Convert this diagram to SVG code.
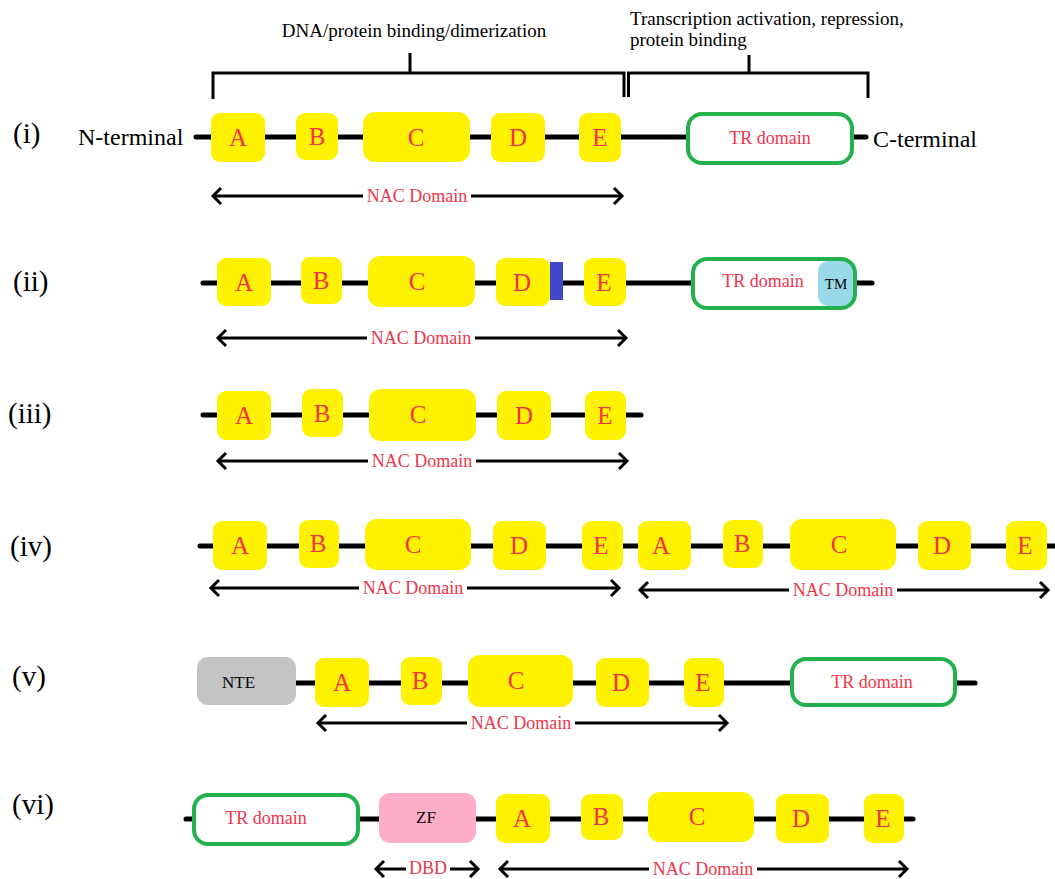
<svg xmlns="http://www.w3.org/2000/svg" width="1055" height="879" viewBox="0 0 1055 879" font-family="'Liberation Serif', 'Times New Roman', 'DejaVu Serif', serif">
<style>
.bb{stroke:#000;stroke-width:5;stroke-linecap:round;fill:none}
.y{fill:#fff200}
text{font-family:'Liberation Serif','Times New Roman','DejaVu Serif',serif}
.lt{font-size:25px;fill:#f0344a;text-anchor:middle}
.tr{fill:#fff;stroke:#22b14c;stroke-width:4}
.trt{font-size:18px;fill:#f0344a;text-anchor:middle}
.ar{stroke:#000;stroke-width:3;fill:none;marker-start:url(#chev);marker-end:url(#chev)}
.nac{font-size:18px;fill:#f0344a;text-anchor:middle}
.lbl{font-size:29px;fill:#000}
.bk{fill:#000}
.br{stroke:#000;stroke-width:3;fill:none}
.gap{fill:#fff}
</style>
<defs>
<marker id="chev" markerUnits="userSpaceOnUse" viewBox="-12 -12 24 24" markerWidth="24" markerHeight="24" refX="0" refY="0" orient="auto-start-reverse">
<path d="M-8,-8 L0,0 L-8,8" fill="none" stroke="#000" stroke-width="3"/>
</marker>
</defs>

<g id="row-labels">
<text class="lbl" x="13" y="143">(i)</text>
<text class="lbl" x="13" y="291">(ii)</text>
<text class="lbl" x="8" y="423">(iii)</text>
<text class="lbl" x="10" y="556">(iv)</text>
<text class="lbl" x="12" y="686">(v)</text>
<text class="lbl" x="12" y="814">(vi)</text>
</g>

<g id="brackets">
<path class="br" d="M213,99 V73 H624 V97 M410,53 V73"/>
<path class="br" d="M628.5,97 V73 H868 V98 M749,55 V73"/>
<text class="bk" x="414" y="37" font-size="19" text-anchor="middle">DNA/protein binding/dimerization</text>
<text class="bk" x="630" y="25" font-size="19">Transcription activation, repression,</text>
<text class="bk" x="630" y="46" font-size="19">protein binding</text>
</g>

<g id="connectors">
<line class="bb" x1="196" y1="137" x2="866" y2="137"/>
<line class="bb" x1="203" y1="283" x2="872" y2="283"/>
<line class="bb" x1="203" y1="415" x2="641" y2="415"/>
<line class="bb" x1="200" y1="546" x2="1058" y2="546"/>
<line class="bb" x1="290" y1="683" x2="975" y2="683"/>
<line class="bb" x1="186" y1="819" x2="913" y2="819"/>

<line class="ar" x1="213" y1="196" x2="622" y2="196"/>
<line class="ar" x1="218" y1="338" x2="626" y2="338"/>
<line class="ar" x1="218" y1="461" x2="627" y2="461"/>
<line class="ar" x1="211" y1="588" x2="619" y2="588"/>
<line class="ar" x1="640" y1="590" x2="1048" y2="590"/>
<line class="ar" x1="318" y1="723" x2="727" y2="723"/>
<line class="ar" x1="376" y1="869" x2="478" y2="869"/>
<line class="ar" x1="500" y1="869" x2="907" y2="869"/>

<g id="arrow-labels">
<rect class="gap" x="363" y="185" width="108" height="22"/>
<text class="nac" x="417" y="202">NAC Domain</text>
<rect class="gap" x="367" y="327" width="108" height="22"/>
<text class="nac" x="421" y="344">NAC Domain</text>
<rect class="gap" x="368" y="450" width="108" height="22"/>
<text class="nac" x="422" y="467">NAC Domain</text>
<rect class="gap" x="359" y="577" width="108" height="22"/>
<text class="nac" x="413" y="594">NAC Domain</text>
<rect class="gap" x="789" y="579" width="108" height="22"/>
<text class="nac" x="843" y="596">NAC Domain</text>
<rect class="gap" x="467" y="712" width="108" height="22"/>
<text class="nac" x="521" y="729">NAC Domain</text>
<rect class="gap" x="406" y="859" width="44" height="20"/>
<text class="nac" x="428" y="874" font-size="15">DBD</text>
<rect class="gap" x="649" y="858" width="108" height="21"/>
<text class="nac" x="703" y="875">NAC Domain</text>
</g>
</g>

<g id="row-i">
<text class="bk" x="78" y="145" font-size="24">N-terminal</text>
<g id="i-A"><rect class="y" x="211" y="113" width="54" height="49" rx="9"/><text class="lt" x="238" y="146">A</text></g>
<g id="i-B"><rect class="y" x="296" y="113" width="42" height="47" rx="9"/><text class="lt" x="317" y="145">B</text></g>
<g id="i-C"><rect class="y" x="363" y="112" width="107" height="50" rx="12"/><text class="lt" x="416" y="146">C</text></g>
<g id="i-D"><rect class="y" x="491" y="113" width="54" height="49" rx="9"/><text class="lt" x="518" y="146">D</text></g>
<g id="i-E"><rect class="y" x="579" y="113" width="42" height="49" rx="9"/><text class="lt" x="600" y="146">E</text></g>
<g id="i-TR"><rect class="tr" x="688" y="114" width="164" height="49" rx="14"/><text class="trt" x="770" y="144">TR domain</text></g>
<text class="bk" x="873" y="147" font-size="24">C-terminal</text>
</g>

<g id="row-ii">
<g id="ii-A"><rect class="y" x="217" y="258" width="54" height="48" rx="9"/><text class="lt" x="244" y="291">A</text></g>
<g id="ii-B"><rect class="y" x="301" y="257" width="41" height="47" rx="9"/><text class="lt" x="321" y="289">B</text></g>
<g id="ii-C"><rect class="y" x="368" y="256" width="107" height="51" rx="12"/><text class="lt" x="417" y="290">C</text></g>
<g id="ii-D"><rect class="y" x="496" y="258" width="54" height="48" rx="9"/><text class="lt" x="522" y="291">D</text></g>
<g id="ii-bar"><rect x="550" y="262" width="13" height="38" fill="#3f48cc"/></g>
<g id="ii-E"><rect class="y" x="584" y="258" width="42" height="48" rx="9"/><text class="lt" x="604" y="291">E</text></g>
<g id="ii-TR"><rect x="693" y="259" width="162" height="49" rx="14" fill="#fff"/><text class="trt" x="763" y="287">TR domain</text>
<rect x="818" y="261" width="36" height="45" rx="10" fill="#99d9ea"/>
<text class="bk" x="836" y="289" font-size="15" text-anchor="middle">TM</text>
<rect x="693" y="259" width="162" height="49" rx="14" fill="none" stroke="#22b14c" stroke-width="4"/></g>
</g>

<g id="row-iii">
<g id="iii-A"><rect class="y" x="217" y="391" width="54" height="49" rx="9"/><text class="lt" x="244" y="424">A</text></g>
<g id="iii-B"><rect class="y" x="302" y="389" width="41" height="48" rx="9"/><text class="lt" x="322" y="422">B</text></g>
<g id="iii-C"><rect class="y" x="369" y="389" width="107" height="52" rx="12"/><text class="lt" x="418" y="423">C</text></g>
<g id="iii-D"><rect class="y" x="497" y="391" width="54" height="49" rx="9"/><text class="lt" x="524" y="424">D</text></g>
<g id="iii-E"><rect class="y" x="585" y="391" width="41" height="49" rx="9"/><text class="lt" x="605" y="424">E</text></g>
</g>

<g id="row-iv">
<g id="iv-A1"><rect class="y" x="213" y="521" width="54" height="49" rx="9"/><text class="lt" x="240" y="554">A</text></g>
<g id="iv-B1"><rect class="y" x="299" y="520" width="40" height="48" rx="9"/><text class="lt" x="318" y="552">B</text></g>
<g id="iv-C1"><rect class="y" x="365" y="519" width="106" height="51" rx="12"/><text class="lt" x="413" y="553">C</text></g>
<g id="iv-D1"><rect class="y" x="493" y="521" width="53" height="49" rx="9"/><text class="lt" x="519" y="554">D</text></g>
<g id="iv-E1"><rect class="y" x="582" y="521" width="41" height="49" rx="9"/><text class="lt" x="601" y="554">E</text></g>
<g id="iv-A2"><rect class="y" x="638" y="521" width="53" height="49" rx="9"/><text class="lt" x="661" y="554">A</text></g>
<g id="iv-B2"><rect class="y" x="723" y="520" width="40" height="48" rx="9"/><text class="lt" x="742" y="552">B</text></g>
<g id="iv-C2"><rect class="y" x="790" y="519" width="106" height="51" rx="12"/><text class="lt" x="839" y="553">C</text></g>
<g id="iv-D2"><rect class="y" x="918" y="521" width="53" height="49" rx="9"/><text class="lt" x="942" y="554">D</text></g>
<g id="iv-E2"><rect class="y" x="1006" y="521" width="41" height="49" rx="9"/><text class="lt" x="1025" y="554">E</text></g>
</g>

<g id="row-v">
<g id="v-NTE"><rect x="197" y="657" width="99" height="48" rx="11" fill="#c3c3c3"/><text class="bk" x="222" y="688" font-size="17">NTE</text></g>
<g id="v-A"><rect class="y" x="315" y="658" width="54" height="49" rx="9"/><text class="lt" x="342" y="691">A</text></g>
<g id="v-B"><rect class="y" x="401" y="657" width="41" height="48" rx="9"/><text class="lt" x="420" y="689">B</text></g>
<g id="v-C"><rect class="y" x="468" y="655" width="105" height="52" rx="12"/><text class="lt" x="516" y="689">C</text></g>
<g id="v-D"><rect class="y" x="596" y="658" width="53" height="49" rx="9"/><text class="lt" x="621" y="691">D</text></g>
<g id="v-E"><rect class="y" x="684" y="658" width="40" height="49" rx="9"/><text class="lt" x="703" y="691">E</text></g>
<g id="v-TR"><rect class="tr" x="792" y="659" width="163" height="46" rx="14"/><text class="trt" x="872" y="688">TR domain</text></g>
</g>

<g id="row-vi">
<g id="vi-TR"><rect class="tr" x="194" y="795" width="164" height="49" rx="14"/><text class="trt" x="266" y="824">TR domain</text></g>
<g id="vi-ZF"><rect x="379" y="793" width="97" height="50" rx="11" fill="#ffaec9"/><text class="bk" x="426" y="823" font-size="17" text-anchor="middle">ZF</text></g>
<g id="vi-A"><rect class="y" x="496" y="794" width="54" height="49" rx="9"/><text class="lt" x="522" y="827">A</text></g>
<g id="vi-B"><rect class="y" x="581" y="794" width="42" height="46" rx="9"/><text class="lt" x="601" y="825">B</text></g>
<g id="vi-C"><rect class="y" x="648" y="792" width="106" height="50" rx="12"/><text class="lt" x="697" y="825">C</text></g>
<g id="vi-D"><rect class="y" x="776" y="794" width="53" height="49" rx="9"/><text class="lt" x="801" y="827">D</text></g>
<g id="vi-E"><rect class="y" x="864" y="794" width="40" height="49" rx="9"/><text class="lt" x="883" y="827">E</text></g>
</g>
</svg>
